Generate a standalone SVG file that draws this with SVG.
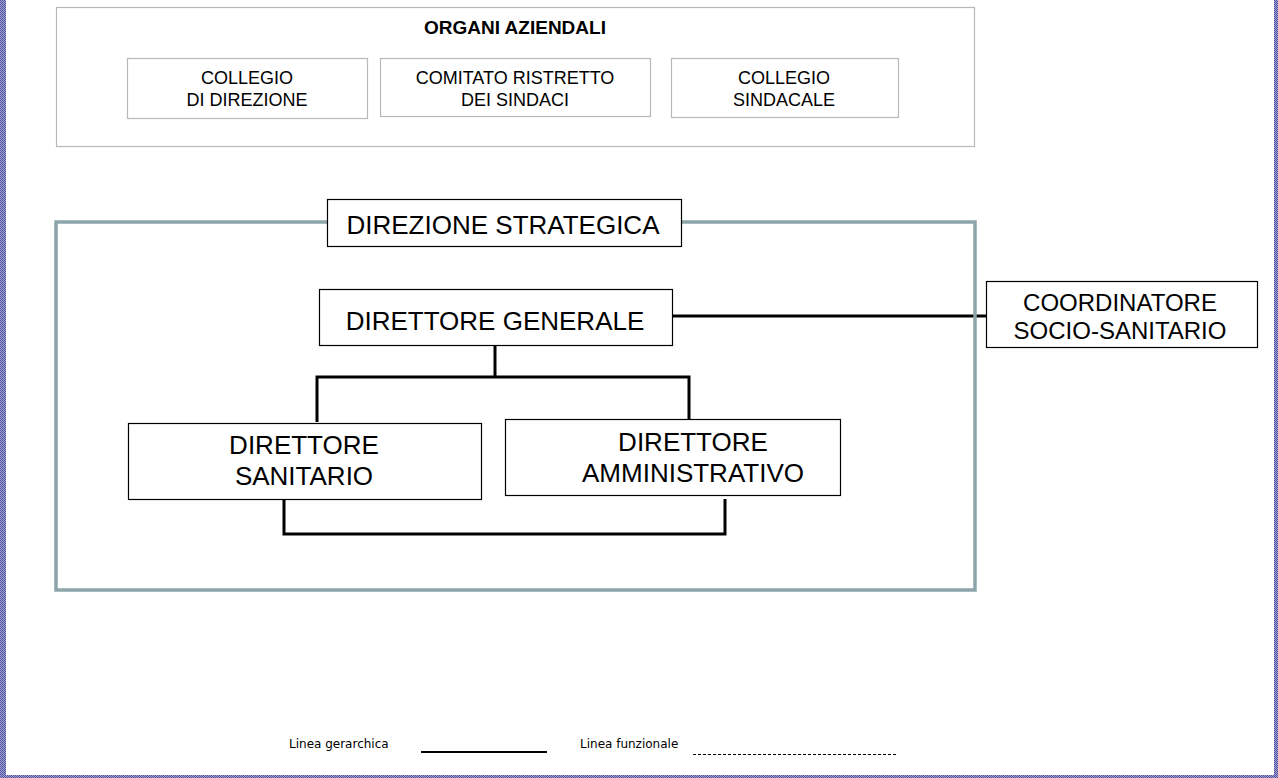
<svg xmlns="http://www.w3.org/2000/svg" width="1278" height="778" viewBox="0 0 1278 778">
<style>
.t{font-family:"Liberation Sans",Arial,sans-serif;fill:#000;text-anchor:middle}
.s{font-size:18px}
.b{font-size:26px}
.c{font-size:24px}
.org{fill:#fff;stroke:#b8b8b8;stroke-width:1.2}
.node{fill:#fff;stroke:#000;stroke-width:1.2}
.con{fill:none;stroke:#000;stroke-width:3}
.leg{font-family:"DejaVu Sans",Verdana,sans-serif;font-size:12px;fill:#000}
</style>
<defs>
<pattern id="chk" width="2" height="2" patternUnits="userSpaceOnUse">
<rect width="2" height="2" fill="#a8a8d8"/>
<rect width="1" height="1" fill="#4c4c9c"/>
<rect x="1" y="1" width="1" height="1" fill="#4c4c9c"/>
</pattern>
</defs>
<rect width="1278" height="778" fill="#fff"/>
<g id="frame">
<rect x="0" y="0" width="6" height="778" fill="url(#chk)"/>
<rect x="1274" y="0" width="4" height="778" fill="url(#chk)"/>
<rect x="0" y="775" width="1278" height="3" fill="url(#chk)"/>
</g>
<g id="organi-aziendali">
<rect class="org" x="56.5" y="7.5" width="918" height="139"/>
<text class="t" x="515" y="34" style="font-size:19px;font-weight:bold">ORGANI AZIENDALI</text>
</g>
<g id="collegio-direzione">
<rect class="org" x="127.5" y="58.5" width="240" height="60"/>
<text class="t s" x="247" y="84">COLLEGIO</text>
<text class="t s" x="247" y="106">DI DIREZIONE</text>
</g>
<g id="comitato-ristretto">
<rect class="org" x="380.5" y="58.5" width="270" height="58"/>
<text class="t s" x="515" y="84">COMITATO RISTRETTO</text>
<text class="t s" x="515" y="106">DEI SINDACI</text>
</g>
<g id="collegio-sindacale">
<rect class="org" x="671.5" y="58.5" width="227" height="59"/>
<text class="t s" x="784" y="84">COLLEGIO</text>
<text class="t s" x="784" y="106">SINDACALE</text>
</g>
<g id="connectors">
<line class="con" x1="672" y1="316" x2="986" y2="316"/>
<polyline class="con" points="495,345 495,377"/>
<polyline class="con" points="317,422 317,377 689,377 689,419"/>
<polyline class="con" points="284,499 284,534 725,534 725,499"/>
</g>
<g id="direzione-strategica-frame">
<rect x="56" y="222" width="919" height="368" fill="none" stroke="#8ca5a9" stroke-width="3.5"/>
</g>
<g id="direzione-strategica">
<rect class="node" x="327.5" y="199.5" width="354" height="47"/>
<text class="t b" x="503" y="234">DIREZIONE STRATEGICA</text>
</g>
<g id="direttore-generale">
<rect class="node" x="319.5" y="289.5" width="353" height="56"/>
<text class="t b" x="495" y="330">DIRETTORE GENERALE</text>
</g>
<g id="coordinatore">
<rect class="node" x="986.5" y="281.5" width="271" height="66"/>
<text class="t c" x="1120" y="311">COORDINATORE</text>
<text class="t c" x="1120" y="339">SOCIO-SANITARIO</text>
</g>
<g id="direttore-sanitario">
<rect class="node" x="128.5" y="423.5" width="353" height="76"/>
<text class="t b" x="304" y="454">DIRETTORE</text>
<text class="t b" x="304" y="485">SANITARIO</text>
</g>
<g id="direttore-amministrativo">
<rect class="node" x="505.5" y="419.5" width="335" height="76"/>
<text class="t b" x="693" y="451">DIRETTORE</text>
<text class="t b" x="693" y="482">AMMINISTRATIVO</text>
</g>
<g id="legenda">
<text class="leg" x="289" y="748">Linea gerarchica</text>
<line x1="421" y1="752" x2="547" y2="752" stroke="#000" stroke-width="2"/>
<text class="leg" x="580" y="748">Linea funzionale</text>
<line x1="693" y1="754.5" x2="896" y2="754.5" stroke="#000" stroke-width="1" stroke-dasharray="3,2"/>
</g>
</svg>
